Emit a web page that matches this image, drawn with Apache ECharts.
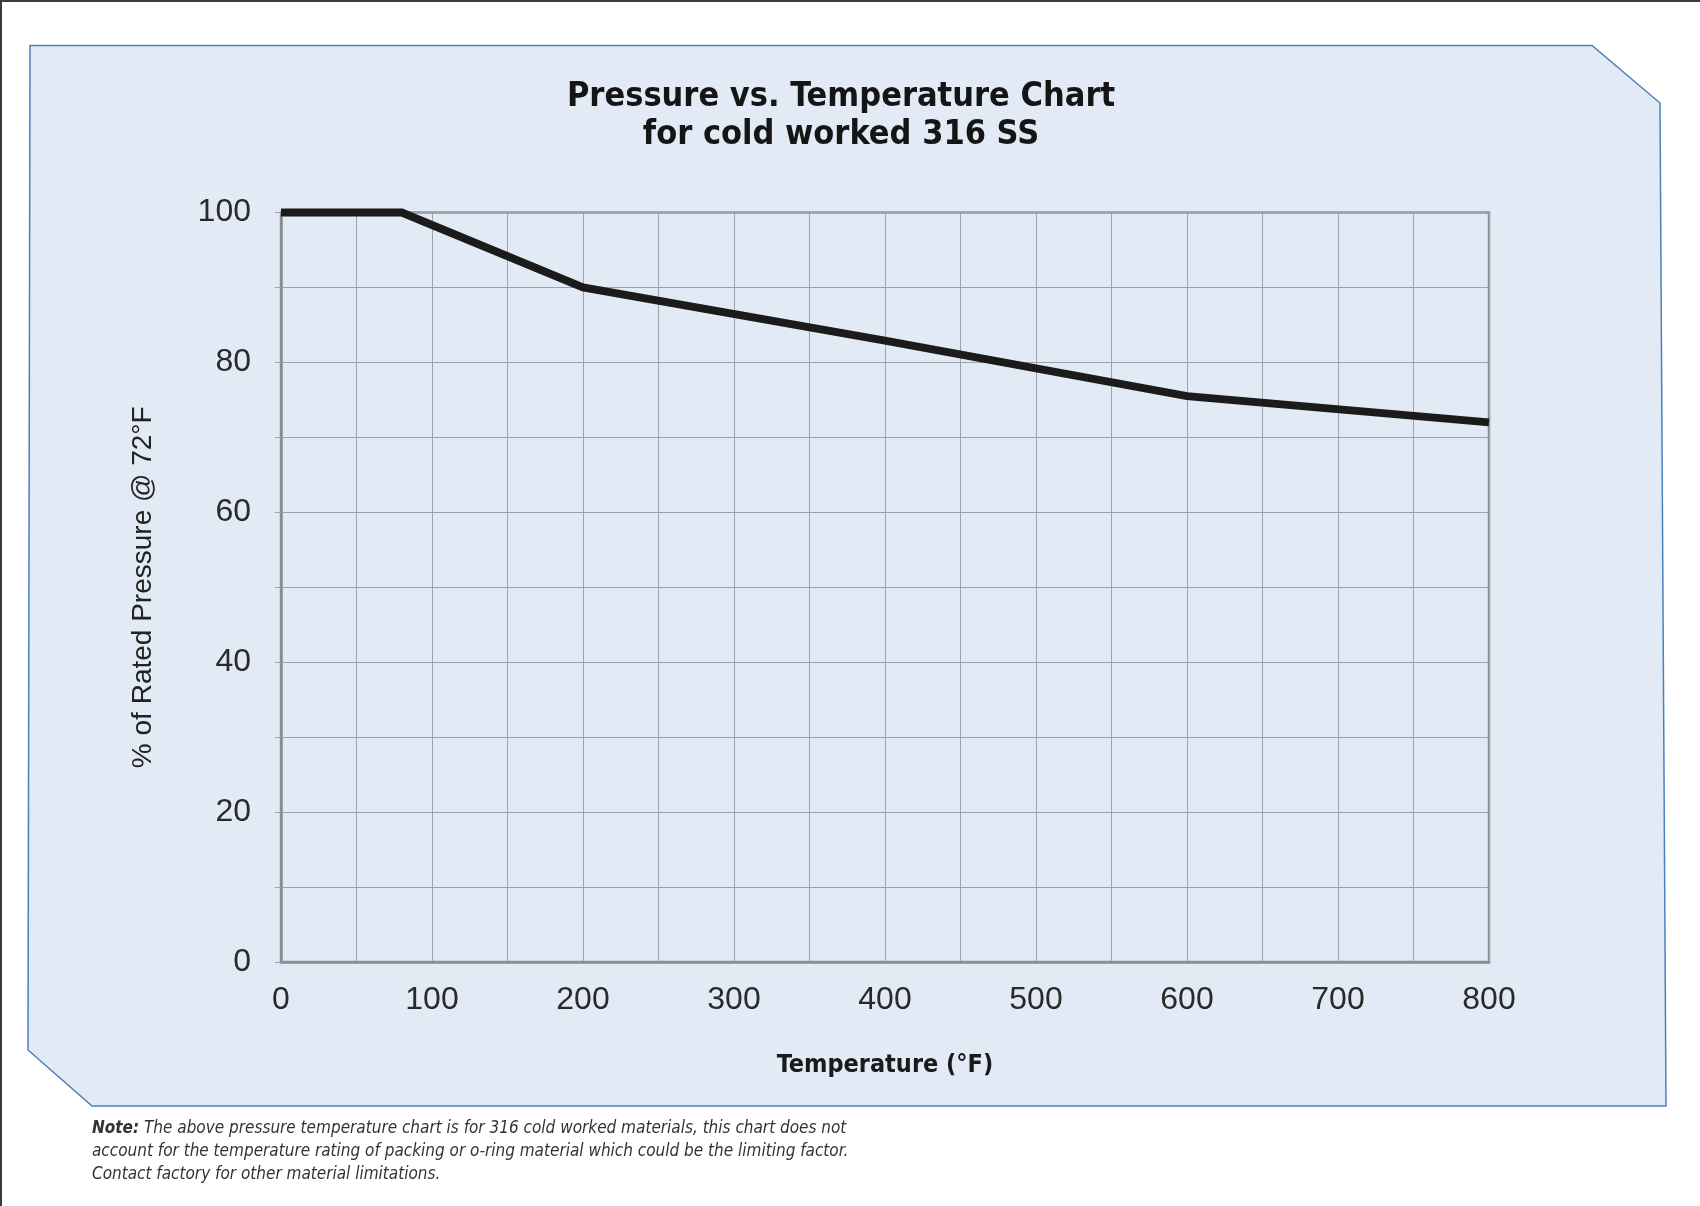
<!DOCTYPE html>
<html>
<head>
<meta charset="utf-8">
<script src="https://cdn.jsdelivr.net/npm/echarts@6/dist/echarts.min.js"></script>
<style>
  html, body { margin: 0; padding: 0; background: #ffffff; }
  #chart { width: 1700px; height: 1206px; }
</style>
</head>
<body>
<div id="chart"></div>
<script>
// ---- data ----
const temperatures = [0, 80, 200, 400, 600, 800];          // °F
const pressurePct  = [100, 100, 90, 82.9, 75.5, 72];        // % of rated pressure @ 72°F
const titleLines = ['Pressure vs. Temperature Chart', 'for cold worked 316 SS'];
const xAxisName = 'Temperature (°F)';
const yAxisName = '% of Rated Pressure @ 72°F';
const noteLines = [
  'The above pressure temperature chart is for 316 cold worked materials, this chart does not',
  'account for the temperature rating of packing or o-ring material which could be the limiting factor.',
  'Contact factory for other material limitations.'
];

const condBold = "'Liberation Sans Narrow', 'DejaVu Sans Condensed', 'Liberation Sans', sans-serif";
const plain = "'Liberation Sans', Arial, sans-serif";

const chart = echarts.init(document.getElementById('chart'), null, { renderer: 'canvas' });

const option = {
  backgroundColor: '#ffffff',
  animation: false,
  title: {
    text: titleLines.join('\n'),
    left: 841,
    textAlign: 'center',
    top: 78,
    padding: 0,
    textStyle: {
      fontFamily: condBold,
      fontWeight: 'bold',
      fontSize: 34,
      lineHeight: 38,
      color: '#151515'
    }
  },
  graphic: [
    { type: 'polygon', z: -10, silent: true,
      shape: { points: [[30, 45.5], [1592, 45.5], [1660, 103], [1666, 1106], [92, 1106], [28, 1050]] },
      style: { fill: '#e2eaf5', stroke: '#4a80bb', lineWidth: 1.5 } },
    { type: 'rect', z: 10, silent: true, shape: { x: 0, y: 0, width: 1700, height: 2 }, style: { fill: '#3c3c3c' } },
    { type: 'rect', z: 10, silent: true, shape: { x: 0, y: 0, width: 2, height: 1206 }, style: { fill: '#3c3c3c' } },
    { type: 'text', left: 92, top: 1117, silent: true,
      style: {
        text: '{b|Note:} ' + noteLines[0] + '\n' + noteLines[1] + '\n' + noteLines[2],
        fontFamily: condBold,
        fontStyle: 'italic',
        fontSize: 17,
        lineHeight: 23,
        fill: '#333333',
        rich: { b: { fontFamily: condBold, fontStyle: 'italic', fontWeight: 'bold', fontSize: 17, lineHeight: 23, color: '#222222' } }
      } }
  ],
  grid: {
    left: 281, right: 211, top: 212.5, bottom: 244,
    show: true, backgroundColor: 'transparent',
    borderColor: '#8a8f96', borderWidth: 2.5
  },
  xAxis: {
    type: 'value', min: 0, max: 800, interval: 100,
    name: xAxisName, nameLocation: 'middle', nameGap: 91,
    nameTextStyle: { fontFamily: condBold, fontWeight: 'bold', fontSize: 25, color: '#1a1a1a' },
    axisLine: { show: true, lineStyle: { color: '#8a8f96', width: 2.5 } },
    axisTick: { show: false },
    minorTick: { show: false, splitNumber: 2 },
    axisLabel: { margin: 22, fontFamily: plain, fontSize: 32, color: '#2a2a2a' },
    splitLine: { show: true, lineStyle: { color: '#9ba3ad', width: 1 } },
    minorSplitLine: { show: true, lineStyle: { color: '#9ba3ad', width: 1 } }
  },
  yAxis: {
    type: 'value', min: 0, max: 100, interval: 20,
    name: yAxisName, nameLocation: 'middle', nameGap: 124, nameRotate: 90,
    nameTextStyle: { fontFamily: plain, fontSize: 28, color: '#222222' },
    axisLine: { show: true, lineStyle: { color: '#8a8f96', width: 2.5 } },
    axisTick: { show: true, inside: false, length: 6, lineStyle: { color: '#9ba3ad', width: 1 } },
    minorTick: { show: true, splitNumber: 2, length: 6, lineStyle: { color: '#9ba3ad', width: 1 } },
    axisLabel: { margin: 30, fontFamily: plain, fontSize: 32, color: '#2a2a2a' },
    splitLine: { show: true, lineStyle: { color: '#9ba3ad', width: 1 } },
    minorSplitLine: { show: true, lineStyle: { color: '#9ba3ad', width: 1 } }
  },
  series: [{
    type: 'line',
    data: temperatures.map((t, i) => [t, pressurePct[i]]),
    showSymbol: false,
    symbol: 'none',
    clip: false,
    lineStyle: { color: '#1b1b1b', width: 8, join: 'miter' },
    z: 5
  }]
};

chart.setOption(option);
</script>
</body>
</html>
